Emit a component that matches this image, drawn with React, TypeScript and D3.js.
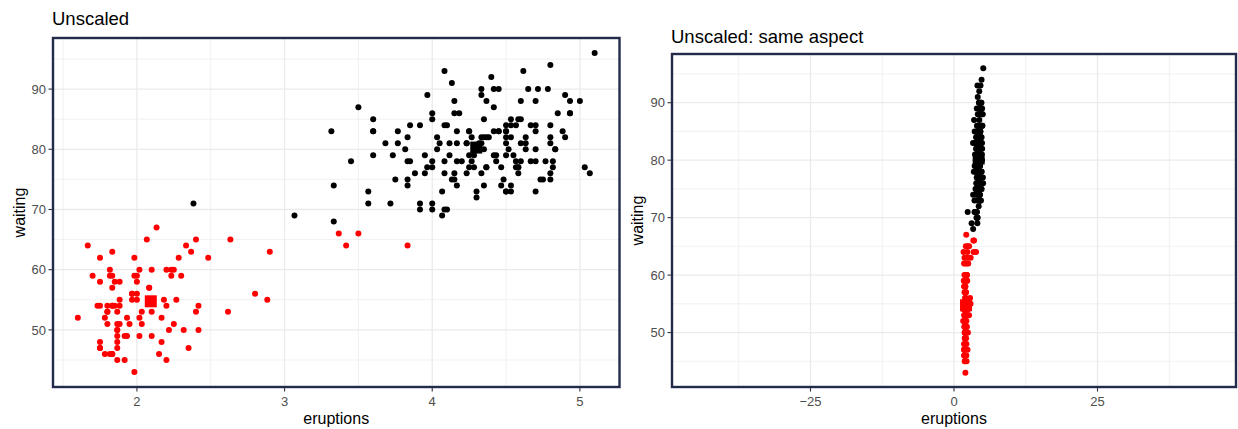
import React from "react";
import * as d3 from "d3";

// Old Faithful: eruptions (min), waiting (min)
const eruptions = [3.6,1.8,3.333,2.283,4.533,2.883,4.7,3.6,1.95,4.35,1.833,3.917,4.2,1.75,4.7,2.167,1.75,4.8,1.6,4.25,1.8,1.75,3.45,3.067,4.533,3.6,1.967,4.083,3.85,4.433,4.3,4.467,3.367,4.033,3.833,2.017,1.867,4.833,1.833,4.783,4.35,1.883,4.567,1.75,4.533,3.317,3.833,2.1,4.633,2,4.8,4.716,1.833,4.833,1.733,4.883,3.717,1.667,4.567,4.317,2.233,4.5,1.75,4.8,1.817,4.4,4.167,4.7,2.067,4.7,4.033,1.967,4.5,4,1.983,5.067,2.017,4.567,3.883,3.6,4.133,4.333,4.1,2.633,4.067,4.933,3.95,4.517,2.167,4,2.2,4.333,1.867,4.817,1.833,4.3,4.667,3.75,1.867,4.9,2.483,4.367,2.1,4.5,4.05,1.867,4.7,1.783,4.85,3.683,4.733,2.3,4.9,4.417,1.7,4.633,2.317,4.6,1.817,4.417,2.617,4.067,4.25,1.967,4.6,3.767,1.917,4.5,2.267,4.65,1.867,4.167,2.8,4.333,1.833,4.383,1.883,4.933,2.033,3.733,4.233,2.233,4.533,4.817,4.333,1.983,4.633,2.017,5.1,1.8,5.033,4,2.4,4.6,3.567,4,4.5,4.083,1.8,3.967,2.2,4.15,2,3.833,3.5,4.583,2.367,5,1.933,4.617,1.917,2.083,4.583,3.333,4.167,4.333,4.5,2.417,4,4.167,1.883,4.583,4.25,3.767,2.033,4.433,4.083,1.833,4.417,2.183,4.8,1.833,4.8,4.1,3.966,4.233,3.5,4.366,2.25,4.667,2.1,4.35,4.133,1.867,4.6,1.783,4.367,3.85,1.933,4.5,2.383,4.7,1.867,3.833,3.417,4.233,2.4,4.8,2,4.15,1.867,4.267,1.75,4.483,4,4.117,4.083,4.267,3.917,4.55,4.083,2.417,4.183,2.217,4.45,1.883,1.85,4.283,3.95,2.333,4.15,2.35,4.933,2.9,4.583,3.833,2.083,4.367,2.133,4.35,2.2,4.45,3.567,4.5,4.15,3.817,3.917,4.45,2,4.283,4.767,4.533,1.85,4.25,1.983,2.25,4.75,4.117,2.15,4.417,1.817,4.467];
const waiting = [79,54,74,62,85,55,88,85,51,85,54,84,78,47,83,52,62,84,52,79,51,47,78,69,74,83,55,76,78,79,73,77,66,80,74,52,48,80,59,90,80,58,84,58,73,83,64,53,82,59,75,90,54,80,54,83,71,64,77,81,59,84,48,82,60,92,78,78,65,73,82,56,79,71,62,76,60,78,76,83,75,82,70,65,73,88,76,80,48,86,60,90,50,78,63,72,84,75,51,82,62,88,49,83,81,47,84,52,86,81,75,59,89,79,59,81,50,85,59,87,53,69,77,56,88,81,45,82,55,90,45,83,56,89,46,82,51,86,53,79,81,60,82,77,76,59,80,49,96,53,77,77,65,81,71,70,81,93,53,89,45,86,58,78,66,76,63,88,52,93,49,57,77,68,81,81,73,50,85,74,55,77,83,83,51,78,84,46,83,55,81,57,76,84,77,81,87,77,51,78,60,82,91,53,78,46,77,84,49,83,71,80,49,75,64,76,53,94,55,76,50,82,54,75,78,79,78,78,70,79,70,54,86,50,90,54,54,77,79,64,75,47,86,63,85,82,57,82,67,74,54,83,73,73,88,80,71,83,56,79,78,84,58,83,43,60,75,81,46,90,46,74];

// k-means cluster centres (read from the big squares)
const centerEruptions = [2.094, 4.298];
const centerWaiting = [54.75, 80.285];
const clusterColors = ["#FF0000", "#000000"];

const leftXTicks = [2, 3, 4, 5];
const leftXMinor = [1.5, 2.5, 3.5, 4.5];
const yTicks = [50, 60, 70, 80, 90];
const yMinor = [45, 55, 65, 75, 85, 95];
const rightXTicks = [-25, 0, 25];
const rightXMinor = [-37.5, -12.5, 12.5, 37.5];

const FONT = "'Liberation Sans', Arial, Helvetica, sans-serif";
const BORDER = "#232b4b";

const points = eruptions.map((e, i) => {
  const w = waiting[i];
  const d0 = (e - centerEruptions[0]) ** 2 + (w - centerWaiting[0]) ** 2;
  const d1 = (e - centerEruptions[1]) ** 2 + (w - centerWaiting[1]) ** 2;
  return { e, w, c: d0 <= d1 ? 0 : 1 };
});

type PanelProps = {
  title: string;
  x: d3.ScaleLinear<number, number>;
  y: d3.ScaleLinear<number, number>;
  xTicks: number[];
  xMinor: number[];
  titleY: number;
  yLabelX: number;
  xFmt: (v: number) => string;
};

function Panel({ title, x, y, xTicks, xMinor, titleY, yLabelX, xFmt }: PanelProps) {
  const [x0, x1] = x.range();
  const [y0, y1] = y.range();
  const grid = "#ebebeb";
  return (
    <g>
      <text x={x0} y={titleY} fontSize={18.5} fontFamily={FONT} fill="#000">{title}</text>
      {xMinor.map((v) => (
        <line key={"xm" + v} x1={x(v)} x2={x(v)} y1={y0} y2={y1} stroke={grid} strokeWidth={0.7} />
      ))}
      {yMinor.map((v) => (
        <line key={"ym" + v} x1={x0} x2={x1} y1={y(v)} y2={y(v)} stroke={grid} strokeWidth={0.7} />
      ))}
      {xTicks.map((v) => (
        <line key={"xg" + v} x1={x(v)} x2={x(v)} y1={y0} y2={y1} stroke={grid} strokeWidth={1.3} />
      ))}
      {yTicks.map((v) => (
        <line key={"yg" + v} x1={x0} x2={x1} y1={y(v)} y2={y(v)} stroke={grid} strokeWidth={1.3} />
      ))}
      {points.map((p, i) => (
        <circle key={i} cx={x(p.e)} cy={y(p.w)} r={3} fill={clusterColors[p.c]} />
      ))}
      {centerEruptions.map((ce, k) => (
        <rect key={"c" + k} x={x(ce) - 6} y={y(centerWaiting[k]) - 6} width={12} height={12} fill={clusterColors[k]} />
      ))}
      <rect x={x0 + 1} y={y1 + 1} width={x1 - x0 - 2} height={y0 - y1 - 2} fill="none" stroke={BORDER} strokeWidth={2.4} />
      {xTicks.map((v) => (
        <g key={"xt" + v}>
          <line x1={x(v)} x2={x(v)} y1={y0} y2={y0 + 3.5} stroke="#333" strokeWidth={1.1} />
          <text x={x(v)} y={y0 + 18} textAnchor="middle" fontSize={13} fontFamily={FONT} fill="#4d4d4d">{xFmt(v)}</text>
        </g>
      ))}
      {yTicks.map((v) => (
        <g key={"yt" + v}>
          <line x1={x0 - 3.5} x2={x0} y1={y(v)} y2={y(v)} stroke="#333" strokeWidth={1.1} />
          <text x={x0 - 6} y={y(v) + 4.6} textAnchor="end" fontSize={13} fontFamily={FONT} fill="#4d4d4d">{v}</text>
        </g>
      ))}
      <text x={(x0 + x1) / 2} y={y0 + 35.5} textAnchor="middle" fontSize={16} fontFamily={FONT} fill="#000">eruptions</text>
      <text transform={`translate(${yLabelX},${(y0 + y1) / 2}) rotate(-90)`} textAnchor="middle" fontSize={16} fontFamily={FONT} fill="#000">waiting</text>
    </g>
  );
}

export default function App() {
  const yDomain: [number, number] = [40.35, 98.65];
  const xL = d3.scaleLinear().domain([1.425, 5.275]).range([52, 620.5]);
  const yL = d3.scaleLinear().domain(yDomain).range([388, 37]);
  const xR = d3.scaleLinear().domain([-49.3, 49.3]).range([671, 1237]);
  const yR = d3.scaleLinear().domain(yDomain).range([388, 53]);
  const minusFmt = (v: number) => (v < 0 ? "\u2212" + Math.abs(v) : String(v));
  return (
    <svg width={1238} height={429} style={{ position: "absolute", left: 0, top: 0, background: "#fff" }}>
      <rect width={1238} height={429} fill="#fff" />
      <Panel title="Unscaled" x={xL} y={yL} xTicks={leftXTicks} xMinor={leftXMinor} titleY={25} yLabelX={24.5} xFmt={String} />
      <Panel title="Unscaled: same aspect" x={xR} y={yR} xTicks={rightXTicks} xMinor={rightXMinor} titleY={42.5} yLabelX={642.5} xFmt={minusFmt} />
    </svg>
  );
}
